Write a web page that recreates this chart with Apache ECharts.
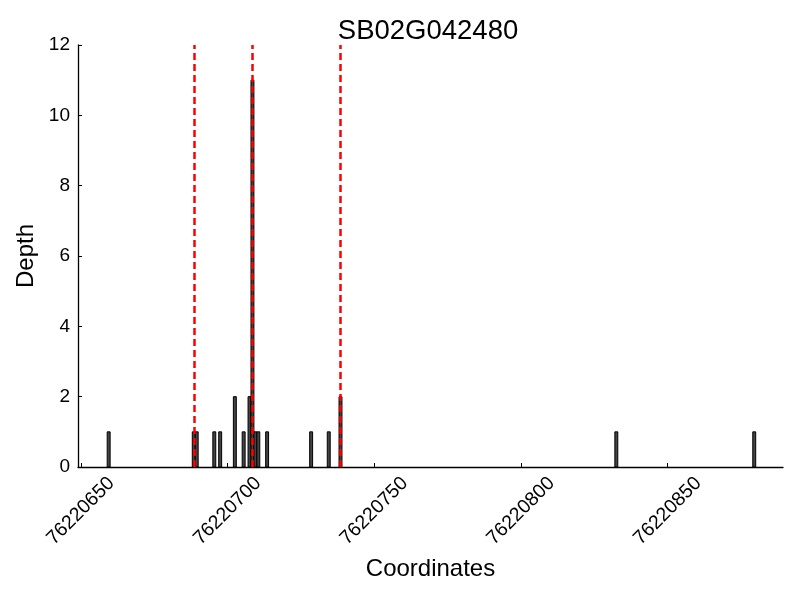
<!DOCTYPE html>
<html>
<head>
<meta charset="utf-8">
<script src="https://cdn.jsdelivr.net/npm/echarts@6/dist/echarts.min.js"></script>
<style>html,body{margin:0;padding:0;background:#fff}#c{width:800px;height:600px}</style>
</head>
<body>
<div id="c"></div>
<script>
var titleText = 'SB02G042480';
// bin start positions (each bin is 1 bp wide) and depth
var positions = [76220659, 76220688, 76220689, 76220695, 76220697, 76220702, 76220705, 76220707, 76220708, 76220709, 76220710, 76220713, 76220728, 76220734, 76220738, 76220832, 76220879];
var depths    = [1, 1, 1, 1, 1, 2, 1, 2, 11, 1, 1, 1, 1, 1, 2, 1, 1];
var markers   = [76220688.5, 76220708.5, 76220738.5];
var xTicks    = [76220650, 76220700, 76220750, 76220800, 76220850];
var yTicks    = [0, 2, 4, 6, 8, 10, 12];

var FONT = 'Liberation Sans, Arial, sans-serif';
var data = positions.map(function (p, i) { return [p, depths[i]]; });

var chart = echarts.init(document.getElementById('c'), null, {renderer: 'canvas'});
chart.setOption({
  animation: false,
  backgroundColor: '#ffffff',
  title: {
    text: titleText,
    left: 423,
    top: 12,
    textAlign: 'center',
    textStyle: {fontFamily: FONT, fontSize: 27.5, fontWeight: 'normal', color: '#000'}
  },
  grid: {left: 78, right: 17, top: 45, bottom: 133, containLabel: false},
  xAxis: {
    type: 'value',
    min: 76220649.05,
    max: 76220889.3,
    name: 'Coordinates',
    nameLocation: 'middle',
    nameGap: 90,
    nameTextStyle: {fontFamily: FONT, fontSize: 24, color: '#000'},
    axisLine: {show: true, onZero: false, lineStyle: {color: '#000', width: 1.3}},
    axisTick: {show: true, inside: true, length: 4, customValues: xTicks, lineStyle: {color: '#000'}},
    axisLabel: {
      show: true, customValues: xTicks, rotate: 45, margin: 44,
      align: 'center', verticalAlign: 'middle',
      fontFamily: FONT, fontSize: 19.5, color: '#000',
      formatter: function (v) { return String(Math.round(v)); }
    },
    splitLine: {show: false}
  },
  yAxis: {
    type: 'value',
    min: 0, max: 12, interval: 2,
    name: 'Depth',
    nameLocation: 'middle',
    nameGap: 38,
    nameRotate: 90,
    nameTextStyle: {fontFamily: FONT, fontSize: 24, color: '#000'},
    axisLine: {show: true, lineStyle: {color: '#000', width: 1.3}},
    axisTick: {show: true, inside: true, length: 4, lineStyle: {color: '#000'}},
    axisLabel: {show: true, margin: 8, fontFamily: FONT, fontSize: 19, color: '#000'},
    splitLine: {show: false}
  },
  series: [{
    type: 'custom',
    data: data,
    renderItem: function (params, api) {
      var x = api.value(0), y = api.value(1);
      var p0 = api.coord([x, y]);
      var p1 = api.coord([x + 1, 0]);
      return {
        type: 'rect',
        shape: {x: p0[0], y: p0[1], width: p1[0] - p0[0], height: p1[1] - p0[1]},
        style: {fill: '#444444', stroke: '#000000', lineWidth: 1}
      };
    },
    z: 2,
    markLine: {
      silent: true,
      symbol: ['none', 'none'],
      label: {show: false},
      lineStyle: {color: '#ff0000', width: 2.5, type: [7, 4]},
      data: markers.map(function (m) { return {xAxis: m}; }),
      z: 5
    }
  }]
});
</script>
</body>
</html>
